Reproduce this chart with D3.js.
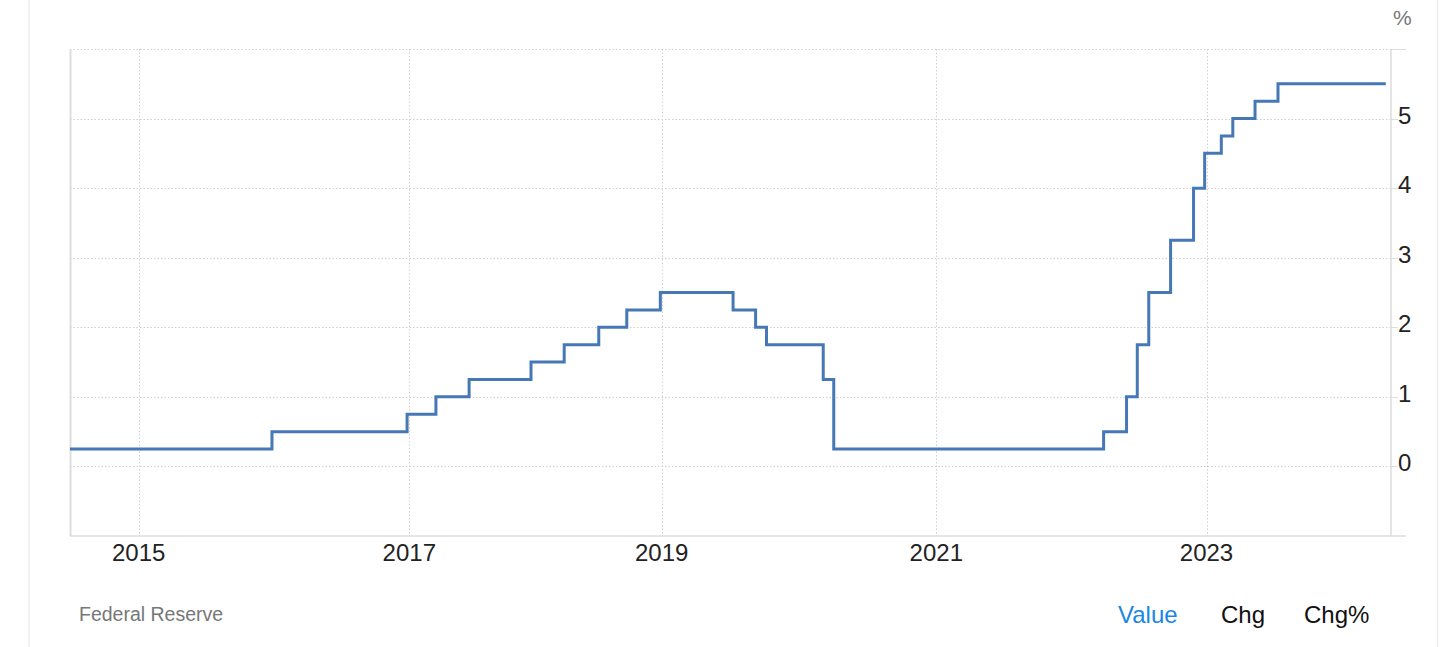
<!DOCTYPE html>
<html>
<head>
<meta charset="utf-8">
<script src="https://cdn.jsdelivr.net/npm/d3@7"></script>
<style>
  html, body { margin: 0; padding: 0; background: #fff; }
  svg { display: block; font-family: "Liberation Sans", Arial, Helvetica, sans-serif; }
</style>
</head>
<body>
<svg id="chart" width="1456" height="647"></svg>
<script>
// ---- data ----
const stepDates = ["2014-06-30", "2015-12-27", "2016-12-26", "2017-03-19", "2017-06-23", "2017-12-19",
  "2018-03-25", "2018-07-03", "2018-09-22", "2018-12-28", "2019-07-10", "2019-09-08", "2019-10-07",
  "2020-03-06", "2020-04-03", "2022-03-29", "2022-05-30", "2022-06-28", "2022-07-29", "2022-09-26",
  "2022-11-27", "2022-12-27", "2023-02-10", "2023-03-13", "2023-05-12", "2023-07-13", "2024-04-29"];
const rateValues = [0.25, 0.5, 0.75, 1.0, 1.25, 1.5, 1.75, 2.0, 2.25, 2.5, 2.25, 2.0, 1.75,
  1.25, 0.25, 0.5, 1.0, 1.75, 2.5, 3.25, 4.0, 4.5, 4.75, 5.0, 5.25, 5.5, 5.5];
const xTickYears = [2015, 2017, 2019, 2021, 2023];
const yTickValues = [0, 1, 2, 3, 4, 5];
const yGridValues = [0, 1, 2, 3, 4, 5, 6];
const unitLabel = "%";
const sourceLabel = "Federal Reserve";
const modeLabels = ["Value", "Chg", "Chg%"];

(function () {
// ---- layout ----
const parse = d3.timeParse("%Y-%m-%d");
const svg = d3.select("#chart");
const pLeft = 70, pRight = 1391, pTop = 49, pBottom = 536;

// time scale calibrated on the year gridlines of the picture
const x = d3.scaleTime()
  .domain([parse("2014-06-30"), new Date(2015,0,1), new Date(2017,0,1), new Date(2019,0,1),
           new Date(2021,0,1), new Date(2023,0,1), parse("2024-05-13")])
  .range([pLeft, 138.7, 409.3, 661.7, 936.3, 1206.5, pRight]);
const y = d3.scaleLinear().domain([-1, 6]).range([pBottom, pTop]);

// card borders
svg.append("line").attr("x1", 29).attr("x2", 29).attr("y1", 0).attr("y2", 647)
  .attr("stroke", "#eeeeee").attr("stroke-width", 1.5);
svg.append("line").attr("x1", 1437.5).attr("x2", 1437.5).attr("y1", 0).attr("y2", 647)
  .attr("stroke", "#eeeeee").attr("stroke-width", 1.5);

// horizontal dotted gridlines
svg.append("g").selectAll("line").data(yGridValues).join("line")
  .attr("x1", pLeft).attr("x2", pRight)
  .attr("y1", d => Math.round(y(d)) + 0.5).attr("y2", d => Math.round(y(d)) + 0.5)
  .attr("stroke", "#cfcfcf").attr("stroke-width", 1).attr("stroke-dasharray", "1.5,2");

// vertical dotted gridlines
svg.append("g").selectAll("line").data(xTickYears).join("line")
  .attr("x1", d => Math.round(x(new Date(d,0,1))) + 0.5).attr("x2", d => Math.round(x(new Date(d,0,1))) + 0.5)
  .attr("y1", pTop).attr("y2", pBottom)
  .attr("stroke", "#cfcfcf").attr("stroke-width", 1).attr("stroke-dasharray", "1.5,2");

// frame lines
svg.append("line").attr("x1", pLeft + 0.5).attr("x2", pLeft + 0.5).attr("y1", pTop).attr("y2", pBottom)
  .attr("stroke", "#dddddd").attr("stroke-width", 2);
svg.append("line").attr("x1", pRight).attr("x2", pRight).attr("y1", pTop).attr("y2", pBottom)
  .attr("stroke", "#dddddd").attr("stroke-width", 1.5);
svg.append("line").attr("x1", pLeft).attr("x2", 1406).attr("y1", pBottom).attr("y2", pBottom)
  .attr("stroke", "#dddddd").attr("stroke-width", 1.5);
svg.append("line").attr("x1", pRight).attr("x2", 1406).attr("y1", Math.round(y(6)) + 0.5).attr("y2", Math.round(y(6)) + 0.5)
  .attr("stroke", "#dddddd").attr("stroke-width", 1);

// right axis ticks + labels
const yAxis = svg.append("g");
yAxis.selectAll("line").data(yTickValues).join("line")
  .attr("x1", pRight).attr("x2", 1398)
  .attr("y1", d => Math.round(y(d)) + 0.5).attr("y2", d => Math.round(y(d)) + 0.5)
  .attr("stroke", "#dddddd").attr("stroke-width", 1);
yAxis.selectAll("text").data(yTickValues).join("text")
  .attr("x", 1398).attr("y", d => y(d) + 5)
  .attr("font-size", 24).attr("fill", "#222").text(d => d);
svg.append("text").attr("x", 1393).attr("y", 25).attr("font-size", 21).attr("fill", "#777").text(unitLabel);

// x labels
svg.append("g").selectAll("text").data(xTickYears).join("text")
  .attr("x", d => x(new Date(d,0,1))).attr("y", 561)
  .attr("text-anchor", "middle").attr("font-size", 24).attr("fill", "#222").text(d => d);

// series
const series = stepDates.map((d, i) => ({ date: parse(d), value: rateValues[i] }));
const line = d3.line().x(d => x(d.date)).y(d => y(d.value)).curve(d3.curveStepAfter);
svg.append("path").datum(series).attr("d", line)
  .attr("fill", "none").attr("stroke", "#4678b6").attr("stroke-width", 3)
  .attr("stroke-linejoin", "miter").attr("stroke-linecap", "butt");

// footer
svg.append("text").attr("x", 79).attr("y", 621).attr("font-size", 19.5).attr("fill", "#777").text(sourceLabel);
const modeX = [1118, 1221, 1304];
svg.append("g").selectAll("text").data(modeLabels).join("text")
  .attr("x", (d, i) => modeX[i]).attr("y", 623)
  .attr("font-size", 24).attr("fill", (d, i) => i === 0 ? "#1a87e2" : "#111").text(d => d);
})();
</script>
</body>
</html>
